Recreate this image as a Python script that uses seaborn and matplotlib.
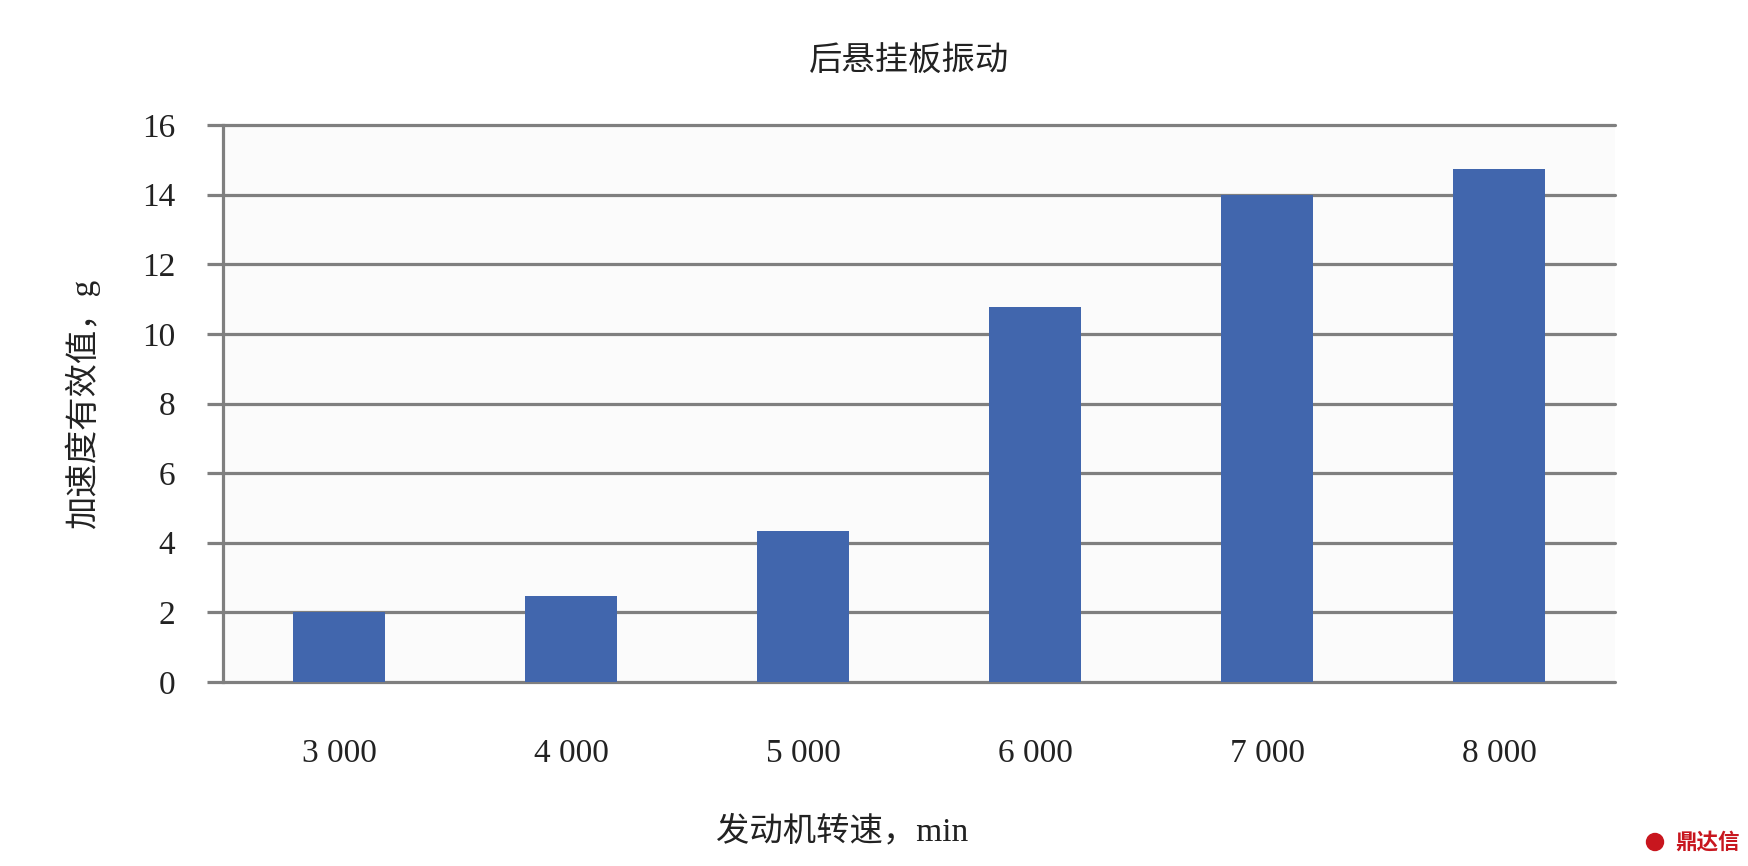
import matplotlib
matplotlib.use("Agg")
import matplotlib.pyplot as plt
import seaborn as sns
import pandas as pd
from matplotlib.patches import Ellipse

categories = ["3 000", "4 000", "5 000", "6 000", "7 000", "8 000"]
values = [2.0, 2.47, 4.34, 10.76, 14.0, 14.74]
yticks = [0, 2, 4, 6, 8, 10, 12, 14, 16]

sns.set_theme(style="white")
plt.rcParams['font.family'] = ['Liberation Serif', 'Noto Sans CJK SC', 'DejaVu Sans']

df = pd.DataFrame({"speed": categories, "acc": values})

W, H = 1748, 866
fig = plt.figure(figsize=(W / 100, H / 100), dpi=100)
ax_left, ax_right = 223 / W, 1615 / W
ax_top, ax_bottom = 1 - 125 / H, 1 - 682 / H
ax = fig.add_axes([ax_left, ax_bottom, ax_right - ax_left, ax_top - ax_bottom])
ax.set_facecolor("#fbfbfb")

sns.barplot(data=df, x="speed", y="acc", color="#4166ad", saturation=1, width=0.395,
            ax=ax, zorder=3, edgecolor="none", linewidth=0)

ax.set_ylim(0, 16)
ax.set_xlim(-0.5, 5.5)
ax.set_yticks(yticks)
ax.set_yticklabels([str(t) for t in yticks])
ax.yaxis.grid(True, color="#7f7f7f", linewidth=2.3, zorder=0)
ax.set_axisbelow(True)
for gl in ax.get_ygridlines():
    gl.set_clip_on(False)
for s in ["top", "right", "bottom"]:
    ax.spines[s].set_visible(False)
ax.spines["left"].set_color("#7f7f7f")
ax.spines["left"].set_linewidth(2.3)
ax.tick_params(axis="y", which="both", left=True, length=11.5, width=2.3, color="#7f7f7f",
               labelsize=24, pad=23, labelcolor="#222222")
ax.tick_params(axis="x", bottom=False, labelsize=24, pad=35, labelcolor="#222222")

ax.set_xlabel("发动机转速，min", fontsize=24, labelpad=33.5, color="#222222")
ax.xaxis.label.set_x((842 / W - ax_left) / (ax_right - ax_left))
ax.set_ylabel("加速度有效值，g", fontsize=24, labelpad=30, color="#222222")
fig.text(909 / W, 1 - 61 / H, "后悬挂板振动", fontsize=24, ha="center", va="center",
         color="#222222")

# watermark
fig.text(1740 / W, 1 - 842 / H, "鼎达信", fontsize=15.5, fontweight="bold", color="#c8161e",
         ha="right", va="center", family=['Noto Sans CJK SC'])
circ = Ellipse((1655 / W, 1 - 842 / H), 17 / W, 17 / H, transform=fig.transFigure,
               color="#c8161e")
fig.patches.append(circ)

fig.savefig("out.png", dpi=100)
